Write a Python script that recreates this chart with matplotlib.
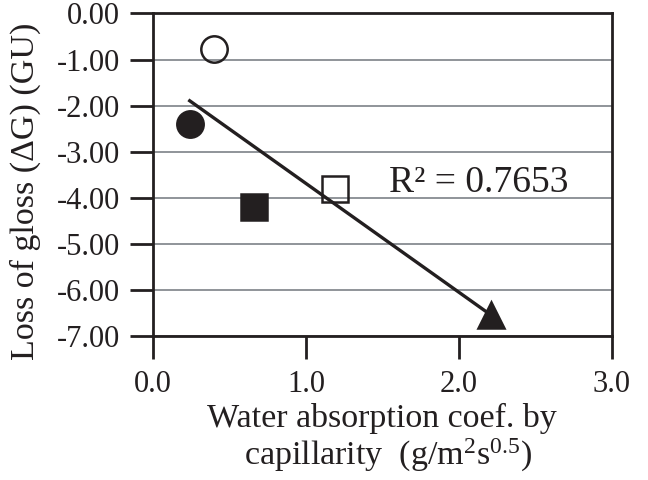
import matplotlib
matplotlib.use('Agg')
import matplotlib.pyplot as plt
import numpy as np

# Samples: water absorption coefficient vs. loss of gloss
absorption = [0.40, 0.24, 0.66, 1.19, 2.21]
gloss_loss = [-0.78, -2.40, -4.21, -3.80, -6.55]
markers = ['o', 'o', 's', 's', '^']
filled = [False, True, True, False, True]
r_squared = 0.7653

x_ticks = [0.0, 1.0, 2.0, 3.0]
y_ticks = [0.0, -1.0, -2.0, -3.0, -4.0, -5.0, -6.0, -7.0]

plt.rcParams['font.family'] = ['Liberation Serif', 'DejaVu Serif']
plt.rcParams['axes.unicode_minus'] = False
plt.rcParams['mathtext.default'] = 'regular'

ink = '#231f20'

fig = plt.figure(figsize=(6.48, 4.8), dpi=100)
ax = fig.add_axes([0.2361, 0.3, 0.7083, 0.6719])

# linear trend through all samples
slope, intercept = np.polyfit(absorption, gloss_loss, 1)
xs = np.array([min(absorption), max(absorption)])
ax.plot(xs, slope * xs + intercept, color=ink, lw=2.4, zorder=3)

for x, y, m, f in zip(absorption, gloss_loss, markers, filled):
    ax.plot(x, y, marker=m, ms=19, mew=1.8, mec=ink,
            mfc=ink if f else 'none', ls='none', zorder=4)

ax.text(1.54, -3.87, f'R\u00b2 = {r_squared:.4f}', fontsize=27, color=ink,
        va='baseline')

ax.set_xlim(0, 3)
ax.set_ylim(-7, 0)
ax.set_xticks(x_ticks)
ax.set_xticklabels([f'{v:.1f}' for v in x_ticks])
ax.set_yticks(y_ticks)
ax.set_yticklabels([f'{v:.2f}' for v in y_ticks])

ax.yaxis.grid(True, color='#8f9499', lw=1.4)
ax.set_axisbelow(True)
for s in ax.spines.values():
    s.set_linewidth(2.0)
    s.set_color(ink)
ax.tick_params(direction='out', length=16.5, width=2.0, color=ink,
               labelsize=22, labelcolor=ink)
ax.tick_params(axis='y', pad=7)
ax.tick_params(axis='x', pad=8)

# axis titles
fig.text(382 / 648, 1 - 427 / 480, 'Water absorption coef. by',
         fontsize=24.5, color=ink, ha='center', va='baseline')
fig.text(388 / 648, 1 - 465 / 480, 'capillarity  (g/m$^2$s$^{0.5}$)',
         fontsize=24.5, color=ink, ha='center', va='baseline')
fig.text(25 / 648, 1 - 191.5 / 480, 'Loss of gloss (\u0394G) (GU)',
         fontsize=24.5, color=ink, rotation=90, ha='center', va='center')

fig.savefig('out.png', dpi=100)
